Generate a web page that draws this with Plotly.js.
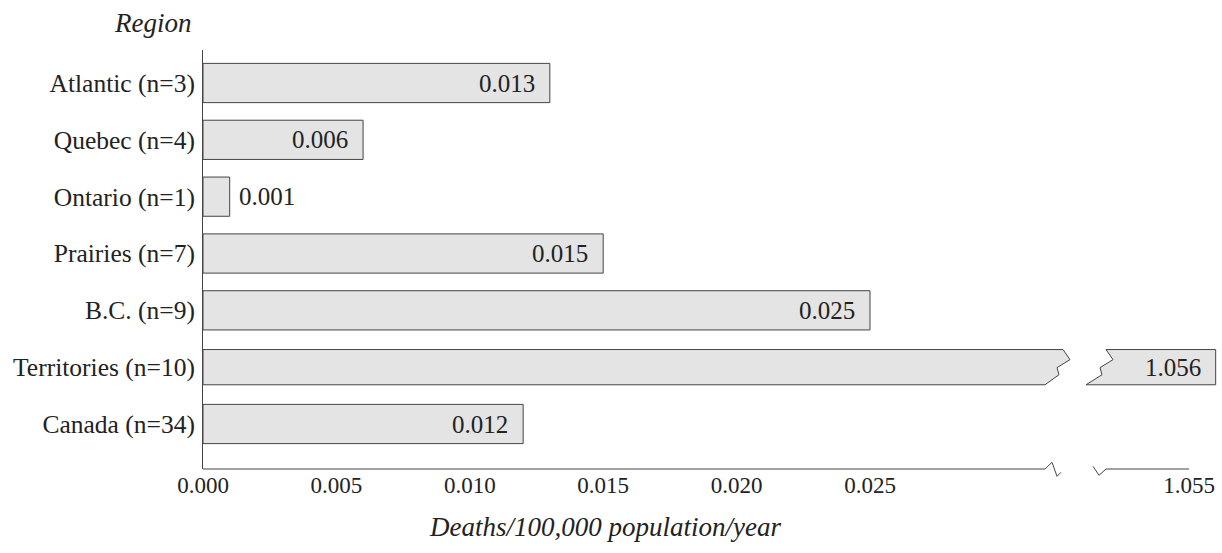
<!DOCTYPE html>
<html>
<head>
<meta charset="utf-8">
<script src="https://cdn.plot.ly/plotly-3.0.1.min.js"></script>
<style>html,body{margin:0;padding:0;background:#fff;}#chart{width:1222px;height:553px;}</style>
</head>
<body>
<div id="chart"></div>
<script>
// ---- data ----
const categories = ['Atlantic (n=3)', 'Quebec (n=4)', 'Ontario (n=1)', 'Prairies (n=7)', 'B.C. (n=9)', 'Territories (n=10)', 'Canada (n=34)'];
const values = [0.013, 0.006, 0.001, 0.015, 0.025, 1.056, 0.012];
const valueLabels = ['0.013', '0.006', '0.001', '0.015', '0.025', '1.056', '0.012'];
const leftTickVals = [0.000, 0.005, 0.010, 0.015, 0.020, 0.025];
const leftTickText = ['0.000', '0.005', '0.010', '0.015', '0.020', '0.025'];
const rightTickVals = [1.055];
const rightTickText = ['1.055'];
const yTitle = 'Region';
const xTitle = 'Deaths/100,000 population/year';

// ---- geometry / style ----
const W = 1222, H = 553;
const ML = 203, MR = 4, MT = 50, MB = 84;
const PW = W - ML - MR, PH = H - MT - MB;
const PX_PER_UNIT = 26680;       // pixels per data unit on both x segments
const ROW_PX = 56.83;            // pixels per category row
const LEFT_END_PX = 872;         // px inside plot where left segment ends
const RIGHT_START_PX = 877;      // px inside plot where right segment starts
const RIGHT_REF_PX = 986;        // px inside plot of rightTickVals[0]
const dx = p => p / PX_PER_UNIT;
const dyPaper = p => p / PH;
const FONT = 'Liberation Serif, Times New Roman, serif';
const TXT = '#222';
const LINE = '#444';
const FILL = '#e4e4e4';
const BAR_W = 0.69;

const n = categories.length;
const pos = categories.map((c, i) => n - 1 - i);

const rightRef = rightTickVals[0];
const leftBreak = dx(842);
const xRange1 = [0, dx(LEFT_END_PX)];
const xRange2 = [rightRef - dx(RIGHT_REF_PX - RIGHT_START_PX), rightRef + dx(PW - RIGHT_REF_PX)];

const normalIdx = values.map((v, i) => i).filter(i => values[i] < xRange1[1]);
const brokenIdx = values.map((v, i) => i).filter(i => values[i] >= xRange1[1]);

const traces = [{
  type: 'bar', orientation: 'h',
  x: normalIdx.map(i => values[i]),
  y: normalIdx.map(i => pos[i]),
  width: BAR_W,
  marker: {color: FILL, line: {color: LINE, width: 1}},
  xaxis: 'x', yaxis: 'y', hoverinfo: 'skip', showlegend: false
}];

// broken bars: left piece (x) and right piece (x2), zig-zag cut
const zzFrac = [0, 0.286, 0.514, 0.714, 1];
const zzLeft = [18, 25, 12, 14, 0];
const zzRight = [20, 27, 14, 16, 0];
brokenIdx.forEach(i => {
  const h = 0.31, top = pos[i] + h, bot = pos[i] - h;
  const yy = zzFrac.map(f => top - f * 2 * h);
  const lx = [0, 0].concat(zzLeft.map(o => leftBreak + dx(o)));
  const ly = [bot, top].concat(yy);
  traces.push({type: 'scatter', mode: 'lines', x: lx.concat([lx[0]]), y: ly.concat([ly[0]]),
    fill: 'toself', fillcolor: FILL, line: {color: LINE, width: 1}, xaxis: 'x', yaxis: 'y',
    hoverinfo: 'skip', showlegend: false});
  const rb = rightRef - dx(RIGHT_REF_PX - (RIGHT_START_PX + 6));
  const rx = [rb + dx(zzRight[0]), values[i], values[i]].concat(zzRight.slice().reverse().map(o => rb + dx(o)));
  const ry = [top, top, bot].concat(yy.slice().reverse());
  traces.push({type: 'scatter', mode: 'lines', x: rx, y: ry,
    fill: 'toself', fillcolor: FILL, line: {color: LINE, width: 1}, xaxis: 'x2', yaxis: 'y',
    hoverinfo: 'skip', showlegend: false});
});

// value labels
const annotations = values.map((v, i) => {
  const broken = v >= xRange1[1];
  const outside = v < 0.003;
  return {
    x: v, y: pos[i], xref: broken ? 'x2' : 'x', yref: 'y',
    text: valueLabels[i], showarrow: false,
    xanchor: outside ? 'left' : 'right', yanchor: 'middle',
    xshift: outside ? 7 : -13,
    font: {family: FONT, size: 25, color: TXT}
  };
});
annotations.push({
  text: '<i>' + yTitle + '</i>', xref: 'paper', yref: 'paper',
  x: -10 / PW, y: 1, xanchor: 'right', yanchor: 'middle', yshift: 27, showarrow: false,
  font: {family: FONT, size: 27, color: TXT}
});
annotations.push({
  text: '<i>' + xTitle + '</i>', xref: 'paper', yref: 'paper',
  x: (605 - ML) / PW, y: 0, xanchor: 'center', yanchor: 'middle', yshift: -58, showarrow: false,
  font: {family: FONT, size: 27, color: TXT}
});

// x axis lines with break marks
const axEndL = dx(842);
const axStartR = rightRef - dx(96);
const shapes = [
  {type: 'path', xref: 'x', yref: 'paper', line: {color: LINE, width: 1},
   path: `M 0 0 L ${axEndL} 0 L ${axEndL + dx(7)} ${dyPaper(6.7)} L ${axEndL + dx(12)} ${dyPaper(-7.3)} L ${axEndL + dx(16)} ${dyPaper(-3.3)}`},
  {type: 'path', xref: 'x2', yref: 'paper', line: {color: LINE, width: 1},
   path: `M ${axStartR} ${dyPaper(2.7)} L ${axStartR + dx(6)} ${dyPaper(-6.3)} L ${axStartR + dx(13)} 0 L ${rightRef} 0`}
];

const tickFont = {family: FONT, size: 23, color: TXT};
const layout = {
  width: W, height: H,
  margin: {l: ML, r: MR, t: MT, b: MB, pad: 0},
  paper_bgcolor: '#fff', plot_bgcolor: 'rgba(0,0,0,0)',
  showlegend: false,
  xaxis: {domain: [0, LEFT_END_PX / PW], range: xRange1, anchor: 'y',
    tickvals: leftTickVals, ticktext: leftTickText, tickfont: tickFont,
    showgrid: false, zeroline: false, showline: false, ticks: ''},
  xaxis2: {domain: [RIGHT_START_PX / PW, 1], range: xRange2, anchor: 'y',
    tickvals: rightTickVals, ticktext: rightTickText, tickfont: tickFont,
    showgrid: false, zeroline: false, showline: false, ticks: ''},
  yaxis: {range: [-45 / ROW_PX, n - 1 + 33 / ROW_PX], anchor: 'x',
    tickvals: pos, ticktext: categories, tickfont: {family: FONT, size: 25.5, color: TXT},
    showgrid: false, zeroline: false, showline: true, linecolor: LINE, linewidth: 1,
    ticks: 'outside', ticklen: 2, tickcolor: 'rgba(0,0,0,0)'},
  annotations: annotations,
  shapes: shapes
};

Plotly.newPlot('chart', traces, layout, {displayModeBar: false, staticPlot: true});
</script>
</body>
</html>
